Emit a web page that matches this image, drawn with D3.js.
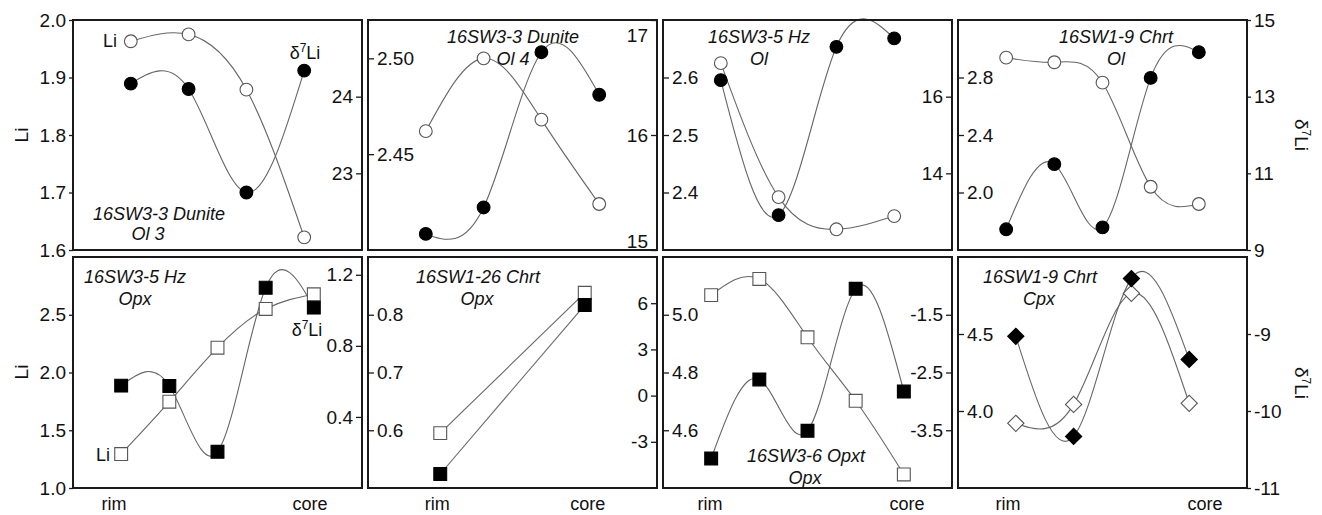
<!DOCTYPE html>
<html>
<head>
<meta charset="utf-8">
<script src="https://cdn.jsdelivr.net/npm/d3@7"></script>
<style>
  body { margin: 0; background: #fff; }
  text { font-family: "Liberation Sans", Arial, sans-serif; }
</style>
</head>
<body>
<div id="chart"></div>
<script>
// analysis spots along each traverse, rim -> core
const pos4 = [1, 2, 3, 4];
const pos5 = [1, 2, 3, 4, 5];
const pos2 = [1, 3];

// Li (ppm) and d7Li (permil) per grain
const dunOl3Li = [1.963, 1.975, 1.879, 1.622];
const dunOl3D7 = [24.17, 24.10, 22.75, 24.34];

const dunOl4Li = [2.462, 2.500, 2.468, 2.424];
const dunOl4D7 = [15.14, 15.37, 16.72, 16.35];

const hzOlLi = [2.625, 2.392, 2.336, 2.359];
const hzOlD7 = [16.43, 12.91, 17.30, 17.52];

const chrt9OlLi = [2.938, 2.906, 2.764, 2.040, 1.920];
const chrt9OlD7 = [9.54, 11.24, 9.59, 13.49, 14.16];

const hzOpxLi = [1.294, 1.747, 2.215, 2.550, 2.677];
const hzOpxD7 = [0.576, 0.574, 0.204, 1.127, 1.015];

const chrt26OpxLi = [0.595, 0.838];
const chrt26OpxD7 = [-5.09, 5.88];

const opxtOpxLi = [5.068, 5.124, 4.922, 4.702, 4.447];
const opxtOpxD7 = [-3.99, -2.62, -3.51, -1.05, -2.83];

const chrt9CpxLi = [3.92, 4.043, 4.764, 4.05];
const chrt9CpxD7 = [-9.03, -10.33, -8.28, -9.33];

// sample labels
const sampleNames = [
    ["16SW3-3 Dunite", "Ol 3"], ["16SW3-3 Dunite", "Ol 4"], ["16SW3-5 Hz", "Ol"], ["16SW1-9 Chrt", "Ol"],
    ["16SW3-5 Hz", "Opx"], ["16SW1-26 Chrt", "Opx"], ["16SW3-6 Opxt", "Opx"], ["16SW1-9 Chrt", "Cpx"]
];

// axis tick values
const liTicks = [
    [1.6, 1.7, 1.8, 1.9, 2.0], [2.45, 2.50], [2.4, 2.5, 2.6], [2.0, 2.4, 2.8],
    [1.0, 1.5, 2.0, 2.5], [0.6, 0.7, 0.8], [4.6, 4.8, 5.0], [4.0, 4.5]
];
const d7Ticks = [
    [23, 24], [15, 16, 17], [14, 16], [9, 11, 13, 15],
    [0.4, 0.8, 1.2], [-3, 0, 3, 6], [-3.5, -2.5, -1.5], [-11, -10, -9]
];

const fmt = f => v => d3.format(f)(v).replace("\u2212", "-");

// panel table built from the arrays above
const panels = [
    { row: 0, col: 0, pos: pos4, xDom: [0, 5], li: dunOl3Li, d7: dunOl3D7, liDom: [1.6, 2.0], d7Dom: [22, 25], liFmt: ".1f", d7Fmt: "d", liOut: true, d7Out: false, shape: "circle" },
    { row: 0, col: 1, pos: pos4, xDom: [0, 5], li: dunOl4Li, d7: dunOl4D7, liDom: [2.40, 2.52], d7Dom: [15, 17], liFmt: ".2f", d7Fmt: "d", liOut: false, d7Out: false, shape: "circle" },
    { row: 0, col: 2, pos: pos4, xDom: [0, 5], li: hzOlLi, d7: hzOlD7, liDom: [2.3, 2.7], d7Dom: [12, 18], liFmt: ".1f", d7Fmt: "d", liOut: false, d7Out: false, shape: "circle" },
    { row: 0, col: 3, pos: pos5, xDom: [0, 6], li: chrt9OlLi, d7: chrt9OlD7, liDom: [1.6, 3.2], d7Dom: [9, 15], liFmt: ".1f", d7Fmt: "d", liOut: false, d7Out: true, shape: "circle" },
    { row: 1, col: 0, pos: pos5, xDom: [0, 6], li: hzOpxLi, d7: hzOpxD7, liDom: [1.0, 3.0], d7Dom: [0, 1.3], liFmt: ".1f", d7Fmt: ".1f", liOut: true, d7Out: false, shape: "square" },
    { row: 1, col: 1, pos: pos2, xDom: [0, 4], li: chrt26OpxLi, d7: chrt26OpxD7, liDom: [0.5, 0.9], d7Dom: [-6, 9], liFmt: ".1f", d7Fmt: "d", liOut: false, d7Out: false, shape: "square" },
    { row: 1, col: 2, pos: pos5, xDom: [0, 6], li: opxtOpxLi, d7: opxtOpxD7, liDom: [4.4, 5.2], d7Dom: [-4.5, -0.5], liFmt: ".1f", d7Fmt: ".1f", liOut: false, d7Out: false, shape: "square" },
    { row: 1, col: 3, pos: pos4, xDom: [0, 5], li: chrt9CpxLi, d7: chrt9CpxD7, liDom: [3.5, 5.0], d7Dom: [-11, -8], liFmt: ".1f", d7Fmt: "d", liOut: false, d7Out: true, shape: "diamond" }
];

// layout
const colX = [73, 368, 663, 958];
const panelW = 289;
const rowTop = [20, 257];
const rowBot = [250, 488];
// sample label placement: [x, baseline of first line, x of 2nd line, baseline of 2nd line]
const labelPos = [
    [159, 220, 148, 240], [513, 43, 513, 65], [759, 43, 759, 65], [1116, 43, 1116, 65],
    [135, 283, 135, 305], [478, 283, 477, 305], [806, 462, 805, 484], [1040, 283, 1039, 305]
];
const rimCore = [[0.142, 0.82], [0.24, 0.76], [0.163, 0.844], [0.173, 0.855]];

const svg = d3.select("#chart")
    .append("svg")
    .attr("width", 1322)
    .attr("height", 515);

function drawAxis(scale, ticks, f, outside, side, xPos, y0, y1) {
    // side: "left" or "right" edge of the frame
    let gen;
    if (side === "left") gen = outside ? d3.axisLeft(scale) : d3.axisRight(scale);
    else gen = outside ? d3.axisRight(scale) : d3.axisLeft(scale);
    gen.tickValues(ticks).tickFormat(fmt(f)).tickSize(outside ? 4 : 6).tickPadding(3);

    const g = svg.append("g")
        .attr("transform", `translate(${xPos},0)`)
        .call(gen);
    g.select(".domain").remove();
    g.selectAll(".tick line").attr("stroke", "#1a1a1a").attr("stroke-width", 1.3);
    g.selectAll(".tick text")
        .attr("font-size", 19)
        .attr("fill", "#111")
        .attr("font-family", "Liberation Sans, Arial, sans-serif");
    if (!outside) {
        // keep end labels inside the frame
        g.selectAll(".tick text").attr("y", d => {
            const ty = scale(d);
            return Math.max(0, (y0 + 15) - ty) + Math.min(0, (y1 - 9) - ty);
        });
    }
}

function marker(shape) {
    if (shape === "circle") return d3.symbol().type(d3.symbolCircle).size(128)();
    if (shape === "square") return d3.symbol().type(d3.symbolSquare).size(165)();
    return d3.symbol().type(d3.symbolSquare).size(132)();
}

panels.forEach((p, k) => {
    const x0 = colX[p.col], x1 = x0 + panelW;
    const y0 = rowTop[p.row], y1 = rowBot[p.row];

    const x = d3.scaleLinear().domain(p.xDom).range([x0, x1]);
    const yLi = d3.scaleLinear().domain(p.liDom).range([y1, y0]);
    const yD7 = d3.scaleLinear().domain(p.d7Dom).range([y1, y0]);

    drawAxis(yLi, liTicks[k], p.liFmt, p.liOut, "left", x0, y0, y1);
    drawAxis(yD7, d7Ticks[k], p.d7Fmt, p.d7Out, "right", x1, y0, y1);

    const series = [
        { vals: p.li, y: yLi, fill: "#fff" },
        { vals: p.d7, y: yD7, fill: "#000" }
    ];

    series.forEach(s => {
        const line = d3.line()
            .x((d, i) => x(p.pos[i]))
            .y(d => s.y(d))
            .curve(d3.curveNatural);
        svg.append("path")
            .attr("d", line(s.vals))
            .attr("fill", "none")
            .attr("stroke", "#666")
            .attr("stroke-width", 1.1);
    });

    series.forEach(s => {
        svg.append("g").selectAll("path")
            .data(s.vals)
            .join("path")
            .attr("d", marker(p.shape))
            .attr("transform", (d, i) => `translate(${x(p.pos[i])},${s.y(d)})` + (p.shape === "diamond" ? " rotate(45)" : ""))
            .attr("fill", s.fill)
            .attr("stroke", s.fill === "#000" ? "#000" : "#555")
            .attr("stroke-width", 1.1);
    });

    // frame
    svg.append("rect")
        .attr("x", x0).attr("y", y0)
        .attr("width", panelW).attr("height", y1 - y0)
        .attr("fill", "none")
        .attr("stroke", "#1a1a1a")
        .attr("stroke-width", 2);

    // sample name
    const lp = labelPos[k];
    const lab = svg.append("g")
        .attr("font-size", 18)
        .attr("font-style", "italic")
        .attr("text-anchor", "middle")
        .attr("fill", "#111");
    lab.append("text").attr("x", lp[0]).attr("y", lp[1]).text(sampleNames[k][0]);
    lab.append("text").attr("x", lp[2]).attr("y", lp[3]).text(sampleNames[k][1]);

    // rim / core under the bottom row
    if (p.row === 1) {
        const rc = rimCore[p.col];
        svg.append("text")
            .attr("x", x0 + rc[0] * panelW).attr("y", 510)
            .attr("text-anchor", "middle").attr("font-size", 18).attr("fill", "#111")
            .text("rim");
        svg.append("text")
            .attr("x", x0 + rc[1] * panelW).attr("y", 510)
            .attr("text-anchor", "middle").attr("font-size", 18).attr("fill", "#111")
            .text("core");
    }
});

// d7Li text helper
function d7Text(sel) {
    sel.append("tspan").text("δ");
    sel.append("tspan").attr("font-size", 12).attr("dy", -7).text("7");
    sel.append("tspan").attr("dy", 7).text("Li");
}

// axis titles
[135, 372].forEach(cy => {
    svg.append("text")
        .attr("transform", `translate(28,${cy}) rotate(-90)`)
        .attr("text-anchor", "middle")
        .attr("font-size", 19)
        .attr("fill", "#111")
        .text("Li");
});
[135, 383].forEach(cy => {
    svg.append("text")
        .attr("transform", `translate(1295,${cy}) rotate(90)`)
        .attr("text-anchor", "middle")
        .attr("font-size", 19)
        .attr("fill", "#111")
        .call(d7Text);
});

// series tags in the first panels
svg.append("text").attr("x", 117).attr("y", 47).attr("text-anchor", "end")
    .attr("font-size", 18).attr("fill", "#111").text("Li");
svg.append("text").attr("x", 305).attr("y", 59).attr("text-anchor", "middle")
    .attr("font-size", 18).attr("fill", "#111").call(d7Text);
svg.append("text").attr("x", 110).attr("y", 461).attr("text-anchor", "end")
    .attr("font-size", 18).attr("fill", "#111").text("Li");
svg.append("text").attr("x", 307).attr("y", 336).attr("text-anchor", "middle")
    .attr("font-size", 18).attr("fill", "#111").call(d7Text);
</script>
</body>
</html>
